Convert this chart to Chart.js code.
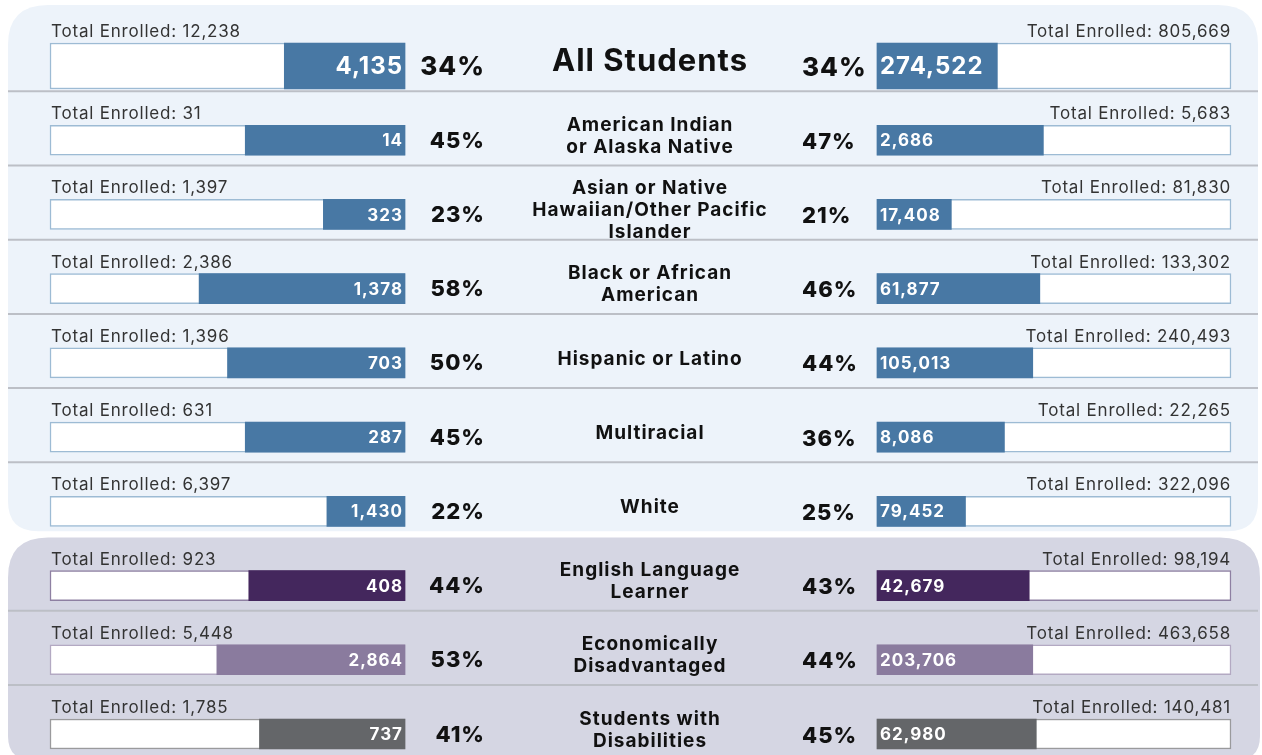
<!DOCTYPE html>
<html>
<head>
<meta charset="utf-8">
<script src="https://cdn.jsdelivr.net/npm/chart.js@4.4.1/dist/chart.umd.min.js"></script>
<style>
  body { margin: 0; background: #fff; }
  #c { display: block; }
</style>
</head>
<body>
<canvas id="c" width="1262" height="755"></canvas>
<script>
// rows, top to bottom
const categories = [
  "All Students",
  "American Indian\nor Alaska Native",
  "Asian or Native\nHawaiian/Other Pacific\nIslander",
  "Black or African\nAmerican",
  "Hispanic or Latino",
  "Multiracial",
  "White",
  "English Language\nLearner",
  "Economically\nDisadvantaged",
  "Students with\nDisabilities"
];
// left side
const leftTotal = [12238, 31, 1397, 2386, 1396, 631, 6397, 923, 5448, 1785];
const leftCount = [4135, 14, 323, 1378, 703, 287, 1430, 408, 2864, 737];
const leftPct = [34, 45, 23, 58, 50, 45, 22, 44, 53, 41];
// right side
const rightTotal = [805669, 5683, 81830, 133302, 240493, 22265, 322096, 98194, 463658, 140481];
const rightCount = [274522, 2686, 17408, 61877, 105013, 8086, 79452, 42679, 203706, 62980];
const rightPct = [34, 47, 21, 46, 44, 36, 25, 43, 44, 45];

const fillColors = ["#4878a4","#4878a4","#4878a4","#4878a4","#4878a4","#4878a4","#4878a4","#44275d","#8a7b9e","#646669"];
const frameColors = ["#9dbbd4","#9dbbd4","#9dbbd4","#9dbbd4","#9dbbd4","#9dbbd4","#9dbbd4","#8e80a2","#b3a9c2","#9a9a9c"];

const W = 1262;
const leftFrame = [50, 405];
const rightFrame = [877, 1231];
const lUnit = (leftFrame[1] - leftFrame[0]) / 100;
const rUnit = (rightFrame[1] - rightFrame[0]) / 100;
const lMax = leftFrame[1] / lUnit;
const rMin = -rightFrame[0] / rUnit;

const fmt = n => n.toLocaleString("en-US");
const onlyTop = arr => arr.map((v, i) => i === 0 ? v : null);
const notTop = arr => arr.map((v, i) => i === 0 ? null : v);
const full = categories.map(() => 100);

function ds(data, axis, thick, isFrame) {
  return {
    data: data,
    xAxisID: axis,
    barThickness: thick,
    grouped: false,
    clip: false,
    order: isFrame ? 1 : 0,
    backgroundColor: isFrame ? "#ffffff" : fillColors,
    borderColor: isFrame ? frameColors : fillColors,
    borderWidth: isFrame ? 1.5 : 0,
    borderSkipped: false
  };
}

function roundRect(ctx, x, y, w, h, rt, rb) {
  ctx.beginPath();
  ctx.moveTo(x + rt, y);
  ctx.lineTo(x + w - rt, y);
  ctx.quadraticCurveTo(x + w, y, x + w, y + rt);
  ctx.lineTo(x + w, y + h - rb);
  ctx.quadraticCurveTo(x + w, y + h, x + w - rb, y + h);
  ctx.lineTo(x + rb, y + h);
  ctx.quadraticCurveTo(x, y + h, x, y + h - rb);
  ctx.lineTo(x, y + rt);
  ctx.quadraticCurveTo(x, y, x + rt, y);
  ctx.closePath();
}

const panels = {
  id: "panels",
  beforeDatasetsDraw(chart) {
    const ctx = chart.ctx, y = chart.scales.y;
    const c = i => y.getPixelForValue(i);
    const step = c(1) - c(0);
    ctx.save();
    ctx.fillStyle = "#edf3fa";
    roundRect(ctx, 8, 5, 1250, c(6) + 20 - 5, 40, 30);
    ctx.fill();
    ctx.fillStyle = "#d5d6e3";
    roundRect(ctx, 8, c(7) - 48, 1252, 760 - (c(7) - 48), 40, 24);
    ctx.fill();
    ctx.strokeStyle = "#bcbfc6";
    ctx.lineWidth = 2;
    [0, 1, 2, 3, 4, 5, 7, 8].forEach(i => {
      const yy = c(i) + step * 0.34;
      ctx.beginPath();
      ctx.moveTo(8, yy);
      ctx.lineTo(1258, yy);
      ctx.stroke();
    });
    ctx.restore();
  },
  afterDatasetsDraw(chart) {
    const ctx = chart.ctx, y = chart.scales.y, xl = chart.scales.xl, xr = chart.scales.xr;
    ctx.save();
    categories.forEach((cat, i) => {
      const cy = y.getPixelForValue(i);
      const half = i === 0 ? 23 : 15;
      const lx0 = xl.getPixelForValue(100), lx1 = xl.getPixelForValue(0);
      const rx0 = xr.getPixelForValue(0), rx1 = xr.getPixelForValue(100);
      // total enrolled
      ctx.fillStyle = "#333";
      ctx.font = "17px Inter";
      ctx.letterSpacing = "0.8px";
      ctx.textBaseline = "alphabetic";
      ctx.textAlign = "left";
      ctx.fillText("Total Enrolled: " + fmt(leftTotal[i]), lx0 + 1, cy - half - 6);
      ctx.textAlign = "right";
      ctx.fillText("Total Enrolled: " + fmt(rightTotal[i]), rx1, cy - half - 6);
      // values inside bars
      ctx.fillStyle = "#fff";
      ctx.font = (i === 0 ? "bold 24px" : "bold 17px") + " Inter";
      ctx.letterSpacing = "1px";
      ctx.textBaseline = "middle";
      ctx.textAlign = "right";
      ctx.fillText(fmt(leftCount[i]), lx1 - 2, cy + 1);
      ctx.textAlign = "left";
      ctx.fillText(fmt(rightCount[i]), rx0 + 3, cy + 1);
      // percents
      ctx.fillStyle = "#111";
      ctx.font = (i === 0 ? "800 26px" : "800 22px") + " Inter";
      ctx.textAlign = "right";
      ctx.fillText(leftPct[i] + "%", 485, cy + 1);
      ctx.textAlign = "left";
      ctx.fillText(rightPct[i] + "%", 802, cy + 2);
      // center label
      const lines = cat.split("\n");
      ctx.font = (i === 0 ? "bold 31px" : "bold 19px") + " Inter";
      ctx.textAlign = "center";
      const lh = 22;
      const top = cy - 4 - (lines.length - 1) * lh / 2;
      lines.forEach((ln, k) => ctx.fillText(ln, 650, top + k * lh));
    });
    ctx.restore();
  }
};

new Chart(document.getElementById("c"), {
  type: "bar",
  data: {
    labels: categories,
    datasets: [
      ds(notTop(leftPct), "xl", 30, false),
      ds(onlyTop(leftPct), "xl", 46, false),
      ds(notTop(rightPct), "xr", 30, false),
      ds(onlyTop(rightPct), "xr", 46, false),
      ds(notTop(full), "xl", 30, true),
      ds(onlyTop(full), "xl", 46, true),
      ds(notTop(full), "xr", 30, true),
      ds(onlyTop(full), "xr", 46, true)
    ]
  },
  options: {
    indexAxis: "y",
    responsive: false,
    animation: false,
    devicePixelRatio: 1,
    layout: { padding: { top: 66, bottom: 21, left: 0, right: 0 } },
    plugins: { legend: { display: false }, tooltip: { enabled: false } },
    scales: {
      y: { type: "category", offset: false, display: false },
      xl: { type: "linear", axis: "x", position: "bottom", reverse: true, min: lMax - W / lUnit, max: lMax, display: false },
      xr: { type: "linear", axis: "x", position: "bottom", min: rMin, max: rMin + W / rUnit, display: false }
    }
  },
  plugins: [panels]
});
</script>
</body>
</html>
